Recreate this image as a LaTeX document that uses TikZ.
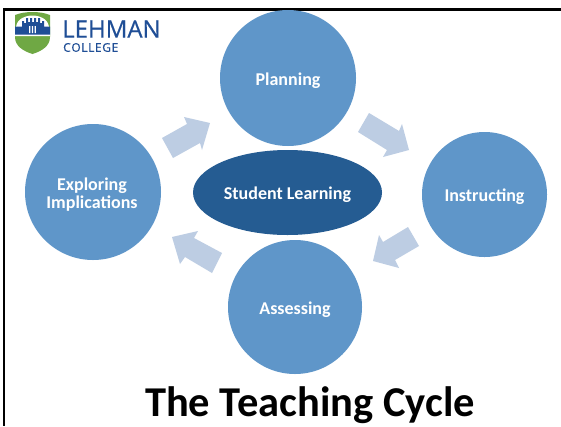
\documentclass[tikz,border=0pt]{standalone}
\usepackage{fontspec}
\setmainfont{Carlito}
\newfontfamily\logofont[FakeBold=0.5]{Open Sans}
\definecolor{circ}{HTML}{5F96C9}
\definecolor{ell}{HTML}{255C92}
\definecolor{arr}{HTML}{BDCDE3}
\definecolor{lblue}{HTML}{1F4E96}
\definecolor{lgreen}{HTML}{6FA844}
\tikzset{
  cyclecirc/.style={circle,fill=circ,inner sep=0pt},
  cyclelabel/.style={text=white,align=center,inner sep=0pt,font=\fontsize{18}{20}\selectfont\bfseries},
  blockarrow/.style={fill=arr,draw=none},
}
\begin{document}
\begin{tikzpicture}[x=1pt,y=-1pt]
\useasboundingbox (0,0) rectangle (561,426);
\fill[white] (0,0) rectangle (561,426);
% frame
\fill[black] (3.3,8.3) rectangle (561,10.6);
\fill[black] (3.3,8.3) rectangle (5.4,426);
% logo
\fill[lgreen] (15,15) .. controls (25,11) and (40,11) .. (50,15) -- (50,37) .. controls (50,46) and (42,51) .. (32.5,54) .. controls (23,51) and (15,46) .. (15,37) -- cycle;
\fill[white] (16,27) .. controls (17,18) and (27,15.5) .. (32.5,15.5) .. controls (38,15.5) and (48,18) .. (49,27) -- (50,36) -- (15,36) -- cycle;
\fill[lblue] (15,26.5) -- (22,26.5) -- (22,21) -- (24,21) -- (24,23) -- (26,23) -- (26,18) -- (28,18) -- (28,22) -- (30,22) -- (30,18) -- (32,18) -- (32,22) -- (34,22) -- (34,18) -- (36,18) -- (36,22) -- (38,22) -- (38,18) -- (40,18) -- (40,23) -- (42,23) -- (42,21) -- (44,21) -- (44,26.5) -- (50,26.5) -- (50,34.5) -- (15,34.5) -- cycle;
\fill[white] (29,26) rectangle (30.3,33) (31.8,26) rectangle (33.1,33) (34.6,26) rectangle (35.9,33);
\node[text=lblue,inner sep=0pt,anchor=west,font=\logofont\fontsize{24}{26}\selectfont] (lehman) at (62,29) {LEHMAN};
\node[text=lblue,inner sep=0pt,anchor=west,font=\logofont\fontsize{12}{14}\selectfont] (college) at (63,47.5) {C\kern.6pt O\kern.6pt L\kern.6pt L\kern.6pt E\kern.6pt G\kern.6pt E};
% arrows
\fill[blockarrow] (369,113) -- (399,131) -- (402,124) -- (409,150) -- (383,157) -- (387,150) -- (358,132) -- cycle;
\fill[blockarrow] (408,227) -- (419,246) -- (395,260) -- (399,268) -- (373,261) -- (379,235) -- (383,242) -- cycle;
\fill[blockarrow] (222,253) -- (212,273) -- (185,257) -- (180,264) -- (172,237) -- (198,231) -- (194,238) -- cycle;
\fill[blockarrow] (162,138) -- (173,158) -- (200,143) -- (202,150) -- (210,123) -- (184,117) -- (187,124) -- cycle;
% circles
\node[cyclecirc,minimum size=136pt] (planning) at (288,78) {};
\node[cyclelabel,yshift=-3pt] (planninglabel) at (planning) {Planning};
\node[cyclecirc,minimum size=125pt] (instructing) at (484.5,194.5) {};
\node[cyclelabel,yshift=-2pt] (instructinglabel) at (instructing) {Instructing};
\node[cyclecirc,minimum size=134pt] (assessing) at (295,307) {};
\node[cyclelabel,yshift=-3pt] (assessinglabel) at (assessing) {Assessing};
\node[cyclecirc,minimum size=136pt] (exploring) at (93,192) {};
\node[cyclelabel,yshift=-3pt,xshift=-1pt] (exploringlabel) at (exploring) {Exploring\\[-2pt]Implications};
\fill[ell] (287.5,192.5) ellipse (94.5 and 42.5);
\node[text=white,inner sep=0pt,font=\fontsize{18}{20}\selectfont\bfseries] (student) at (287.5,194.5) {Student Learning};
\node[inner sep=0pt,font=\fontsize{42.5}{46}\selectfont\bfseries] (title) at (310,405) {The Teaching Cycle};
\end{tikzpicture}
\end{document}
